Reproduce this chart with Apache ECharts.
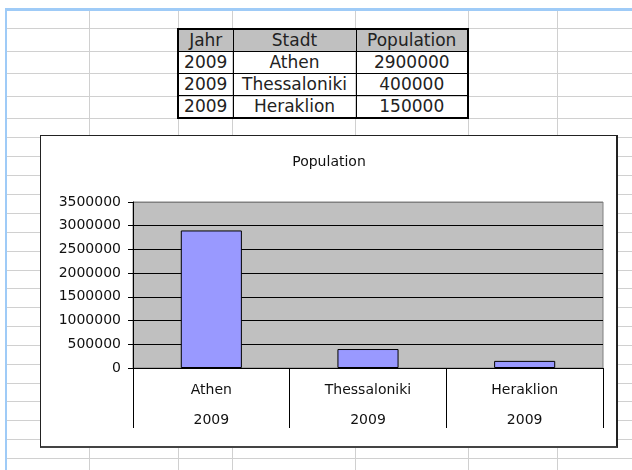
<!DOCTYPE html>
<html>
<head>
<meta charset="utf-8">
<script src="https://cdn.jsdelivr.net/npm/echarts@6/dist/echarts.min.js"></script>
<style>
html,body{margin:0;padding:0;background:#fff;width:632px;height:470px;overflow:hidden;font-family:"DejaVu Sans",Verdana,sans-serif;}
.l{position:absolute;background:#d0d0d0;}
#tbl{position:absolute;left:177px;top:28px;border-collapse:collapse;border:2px solid #000;table-layout:fixed;font-size:17px;color:#222;}
#tbl td{border:1px solid #000;padding:0;text-align:center;height:21px;line-height:21px;white-space:nowrap;overflow:hidden;}
#tbl tr.h td{background:#c0c0c0;}
#box{position:absolute;left:40px;top:135px;width:578px;height:313px;box-sizing:border-box;border:1px solid #222;border-right:2px solid #222;border-bottom:2px solid #444;background:#fff;}
#chart{position:absolute;left:40px;top:135px;width:578px;height:313px;}
</style>
</head>
<body>
<div id="bg"></div>
<div id="box"></div>
<div id="chart"></div>
<script>
// ---- data ----
const headers = ['Jahr', 'Stadt', 'Population'];
const years = ['2009', '2009', '2009'];
const cities = ['Athen', 'Thessaloniki', 'Heraklion'];
const population = [2900000, 400000, 150000];
const yTicks = [0, 500000, 1000000, 1500000, 2000000, 2500000, 3000000, 3500000];
const chartTitle = 'Population';

(function () {
  // ---- spreadsheet background (decoration) ----
  const bg = document.getElementById('bg');
  const rowLines = [28, 51, 73, 96, 118, 137, 156, 175, 194, 213, 232, 251, 270, 288, 307, 326, 345, 364, 383, 401, 420, 439, 458];
  const colLines = [89, 178, 232, 355, 468, 557];
  rowLines.forEach(y => {
    const d = document.createElement('div'); d.className = 'l';
    d.style.cssText = `left:7px;top:${y}px;width:625px;height:1px;`;
    bg.appendChild(d);
  });
  colLines.forEach(x => {
    const d = document.createElement('div'); d.className = 'l';
    d.style.cssText = `left:${x}px;top:11px;width:1px;height:459px;`;
    bg.appendChild(d);
  });
  const bandTop = document.createElement('div');
  bandTop.style.cssText = 'position:absolute;left:5px;top:8px;width:627px;height:3px;background:#9fcbf7;';
  bg.appendChild(bandTop);
  const bandLeft = document.createElement('div');
  bandLeft.style.cssText = 'position:absolute;left:5px;top:8px;width:2px;height:462px;background:#9fcbf7;';
  bg.appendChild(bandLeft);

  // ---- data table ----
  const tbl = document.createElement('table'); tbl.id = 'tbl';
  const cg = document.createElement('colgroup');
  [55, 123, 112].forEach(w => { const c = document.createElement('col'); c.style.width = w + 'px'; cg.appendChild(c); });
  tbl.appendChild(cg);
  const hr = document.createElement('tr'); hr.className = 'h';
  headers.forEach(h => { const td = document.createElement('td'); td.textContent = h; hr.appendChild(td); });
  tbl.appendChild(hr);
  cities.forEach((c, i) => {
    const tr = document.createElement('tr');
    [years[i], c, String(population[i])].forEach(v => { const td = document.createElement('td'); td.textContent = v; tr.appendChild(td); });
    tbl.appendChild(tr);
  });
  bg.appendChild(tbl);
})();

// ---- chart ----
const chart = echarts.init(document.getElementById('chart'), null, {renderer: 'canvas'});
const font = '"DejaVu Sans", Verdana, sans-serif';
chart.setOption({
  animation: false,
  backgroundColor: 'transparent',
  title: {
    text: chartTitle, left: 'center', top: 15,
    textStyle: {fontFamily: font, fontSize: 14, fontWeight: 'normal', color: '#111'}
  },
  grid: {
    left: 93, top: 67, width: 470, height: 166,
    show: true, backgroundColor: '#c0c0c0', borderColor: '#808080', borderWidth: 1
  },
  xAxis: {
    type: 'category',
    data: cities,
    axisLine: {lineStyle: {color: '#000', width: 1}},
    axisTick: {show: true, length: 60, alignWithLabel: false, lineStyle: {color: '#000', width: 1}},
    axisLabel: {
      margin: 7, lineHeight: 30, fontFamily: font, fontSize: 14, color: '#111',
      formatter: (v, i) => v + '\n' + years[i]
    }
  },
  yAxis: {
    type: 'value',
    min: yTicks[0], max: yTicks[yTicks.length - 1], interval: yTicks[1] - yTicks[0],
    axisLine: {show: true, lineStyle: {color: '#000', width: 1}},
    axisTick: {show: true, length: 5, lineStyle: {color: '#000'}},
    axisLabel: {margin: 12, fontFamily: font, fontSize: 14, color: '#111', formatter: v => String(v)},
    splitLine: {show: true, lineStyle: {color: ['#000', '#000', '#000', '#000', '#000', '#000', '#000', '#808080'], width: 1}}
  },
  series: [{
    type: 'bar',
    data: population,
    barWidth: '39%',
    itemStyle: {color: '#9999ff', borderColor: '#000', borderWidth: 1}
  }]
});
</script>
</body>
</html>
